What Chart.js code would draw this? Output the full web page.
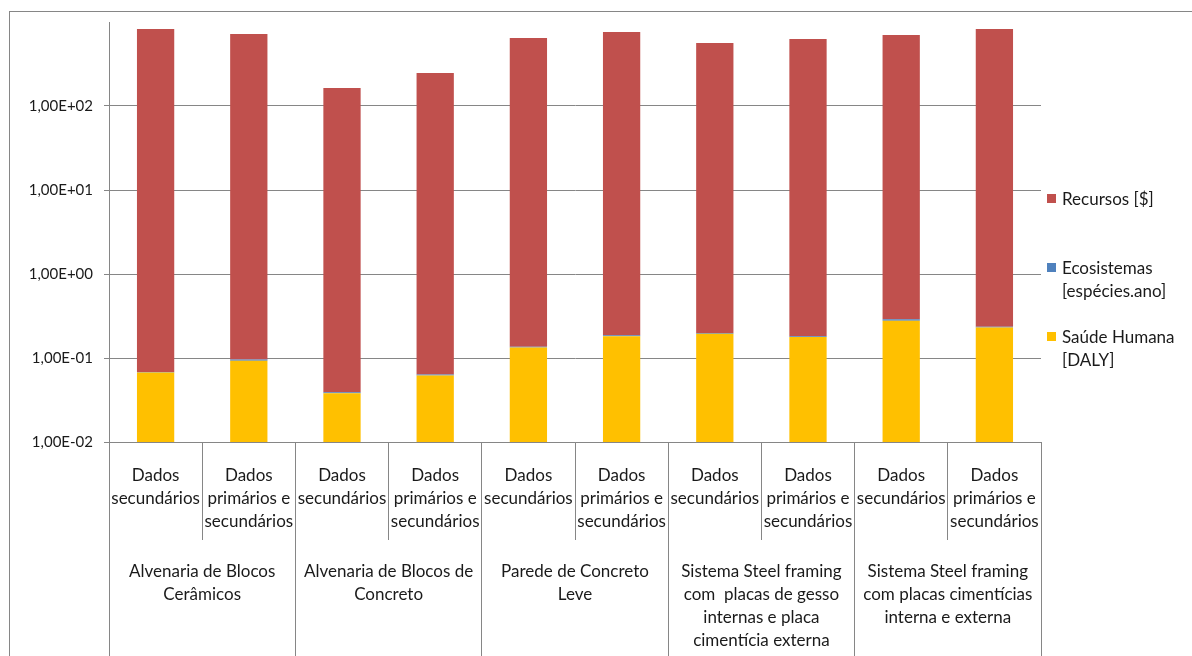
<!DOCTYPE html>
<html>
<head>
<meta charset="utf-8">
<script src="https://cdn.jsdelivr.net/npm/chart.js@4.4.1/dist/chart.umd.min.js"></script>
<style>
  html, body { margin: 0; padding: 0; background: #fff; overflow: hidden; }
  #wrap { position: relative; width: 1192px; height: 656px; overflow: hidden; }
  #frame { position: absolute; left: 9px; top: 11px; width: 2000px; height: 2000px; border: 1px solid #868686; }
  #chart { position: absolute; left: 0; top: 0; }
  #legend { position: absolute; left: 1047px; top: 0; font-family: Lato, sans-serif; font-size: 17px; color: #1a1a1a; }
  .item { position: absolute; left: 0; width: 145px; line-height: 23px; }
  .sw { position: absolute; left: 0; top: 7px; width: 9px; height: 9px; }
  .txt { position: absolute; left: 15px; top: 0; white-space: nowrap; }
</style>
</head>
<body>
<div id="wrap">
  <div id="frame"></div>
  <canvas id="chart" width="1192" height="656"></canvas>
  <div id="legend"></div>
</div>
<script>
// sub-categories (first level of the category axis)
const categories = [
    ['Dados', 'secundários'], ['Dados', 'primários e', 'secundários'],
    ['Dados', 'secundários'], ['Dados', 'primários e', 'secundários'],
    ['Dados', 'secundários'], ['Dados', 'primários e', 'secundários'],
    ['Dados', 'secundários'], ['Dados', 'primários e', 'secundários'],
    ['Dados', 'secundários'], ['Dados', 'primários e', 'secundários']
];
// wall systems (second level)
const groups = [
    ['Alvenaria de Blocos', 'Cerâmicos'],
    ['Alvenaria de Blocos de', 'Concreto'],
    ['Parede de Concreto', 'Leve'],
    ['Sistema Steel framing', 'com  placas de gesso', 'internas e placa', 'cimentícia externa'],
    ['Sistema Steel framing', 'com placas cimentícias', 'interna e externa']
];

const saudeHumana = [0.067, 0.093, 0.038, 0.062, 0.133, 0.181, 0.195, 0.178, 0.278, 0.230];
const ecosistemas = [0.001, 0.003, 0.001, 0.0015, 0.003, 0.005, 0.004, 0.003, 0.012, 0.006];
const recursos = [826, 720, 164, 247, 645, 760, 562, 628, 700, 826];

const seriesNames = [['Saúde Humana', '[DALY]'], ['Ecosistemas', '[espécies.ano]'], ['Recursos [$]']];
const seriesColors = ['#FFC000', '#4F81BD', '#C0504D'];

const yTickValues = [0.01, 0.1, 1, 10, 100];
const yTickLabels = ['1,00E-02', '1,00E-01', '1,00E+00', '1,00E+01', '1,00E+02'];

const axisColor = '#868686';
const textColor = '#1a1a1a';
const font17 = { family: 'Lato, sans-serif', size: 17, lineHeight: 23 / 17 };
const font15 = { family: 'Lato, sans-serif', size: 15 };

const chart = new Chart(document.getElementById('chart'), {
    type: 'bar',
    data: {
        labels: categories,
        datasets: [saudeHumana, ecosistemas, recursos].map((vals, i) => ({
            label: seriesNames[i].join(' '),
            data: vals,
            backgroundColor: seriesColors[i],
            borderWidth: 0,
            categoryPercentage: 1,
            barPercentage: 0.4
        }))
    },
    options: {
        responsive: false,
        animation: false,
        layout: { padding: { left: 10, top: 22, right: 151, bottom: 0 } },
        plugins: { legend: { display: false }, tooltip: { enabled: false } },
        scales: {
            x: {
                stacked: true,
                weight: 0,
                grid: { offset: true, drawOnChartArea: false, tickLength: 98, color: axisColor },
                border: { color: axisColor },
                ticks: { padding: -76, autoSkip: false, maxRotation: 0, font: font17, color: textColor },
                afterFit: s => { s.height = 98; }
            },
            x2: {
                type: 'category',
                labels: groups,
                position: 'bottom',
                offset: true,
                weight: 1,
                grid: { offset: true, drawOnChartArea: false, tickLength: 116, color: axisColor },
                border: { display: false },
                ticks: { padding: -96, autoSkip: false, maxRotation: 0, font: font17, color: textColor },
                afterFit: s => { s.height = 116; }
            },
            y: {
                type: 'logarithmic',
                stacked: true,
                min: 0.01,
                max: 1000,
                afterBuildTicks: s => { s.ticks = yTickValues.map(v => ({ value: v })); },
                afterFit: s => { s.width = 99; },
                grid: { color: axisColor, tickLength: 5 },
                border: { color: axisColor },
                ticks: {
                    padding: 11,
                    font: font15,
                    color: textColor,
                    callback: (v, i) => yTickLabels[i]
                }
            }
        }
    }
});

// legend on the right, stacked top to bottom in reverse order like the original
const legend = document.getElementById('legend');
[2, 1, 0].forEach((di, k) => {
    const item = document.createElement('div');
    item.className = 'item';
    item.style.top = (187 + k * 69) + 'px';
    item.innerHTML = '<span class="sw" style="background:' + seriesColors[di] + '"></span>' +
        '<span class="txt">' + seriesNames[di].join('<br>') + '</span>';
    legend.appendChild(item);
});
</script>
</body>
</html>
